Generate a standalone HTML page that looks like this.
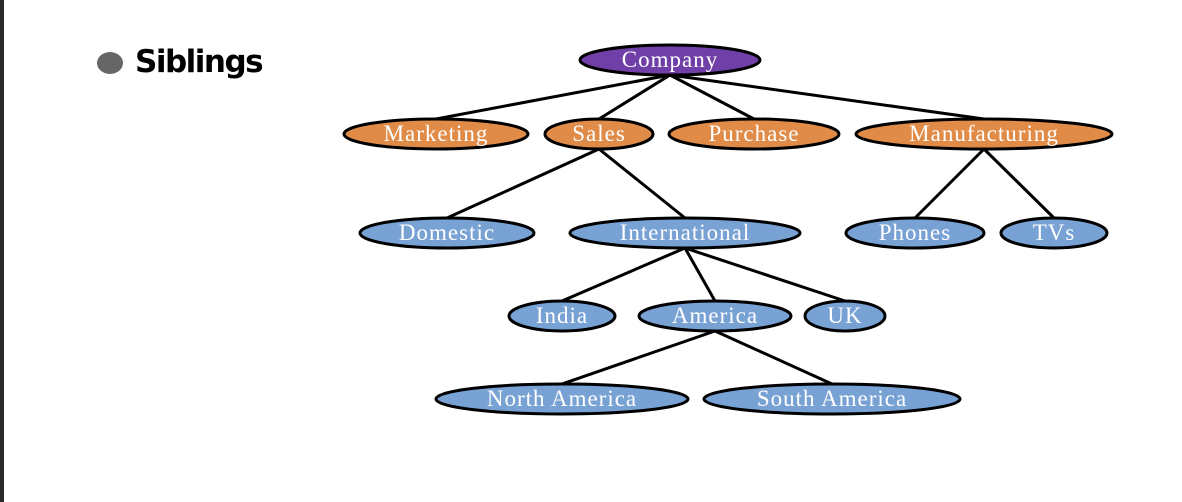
<!DOCTYPE html>
<html><head><style>
html,body{margin:0;padding:0;background:#fff;}
body{width:1182px;height:502px;position:relative;overflow:hidden;}
.bar{position:absolute;left:0;top:0;width:4px;height:502px;background:#2b2b2b;}
.title{position:absolute;left:135px;top:44px;font:bold 31px "DejaVu Sans","Liberation Sans",sans-serif;color:#000;letter-spacing:-1.5px;}
.dot{position:absolute;left:97px;top:52px;width:26px;height:22px;border-radius:50%;background:#666;}
svg{position:absolute;left:0;top:0;}
text{font-family:"Liberation Serif",serif;font-size:23px;letter-spacing:1px;fill:#fff;text-anchor:middle;}
</style></head><body>
<div class="bar"></div>
<div class="dot"></div>
<div class="title">Siblings</div>
<svg width="1182" height="502">
<g stroke="#000" stroke-width="3">
<line x1="670" y1="75" x2="436" y2="119"/>
<line x1="670" y1="75" x2="599" y2="119"/>
<line x1="670" y1="75" x2="754" y2="119"/>
<line x1="670" y1="75" x2="984" y2="119"/>
<line x1="599" y1="149" x2="447" y2="218"/>
<line x1="599" y1="149" x2="685" y2="218"/>
<line x1="984" y1="149" x2="915" y2="218"/>
<line x1="984" y1="149" x2="1054" y2="218"/>
<line x1="685" y1="248" x2="562" y2="301"/>
<line x1="685" y1="248" x2="715" y2="301"/>
<line x1="685" y1="248" x2="845" y2="301"/>
<line x1="715" y1="331" x2="562" y2="384"/>
<line x1="715" y1="331" x2="832" y2="384"/>
</g>
<g stroke="#000" stroke-width="3">
<ellipse cx="670" cy="60" rx="90" ry="15" fill="#7040a8"/>
<ellipse cx="436" cy="134" rx="92" ry="15" fill="#e08c48"/>
<ellipse cx="599" cy="134" rx="54" ry="15" fill="#e08c48"/>
<ellipse cx="754" cy="134" rx="85" ry="15" fill="#e08c48"/>
<ellipse cx="984" cy="134" rx="128" ry="15" fill="#e08c48"/>
<ellipse cx="447" cy="233" rx="87" ry="15" fill="#78a2d4"/>
<ellipse cx="685" cy="233" rx="115" ry="15" fill="#78a2d4"/>
<ellipse cx="915" cy="233" rx="69" ry="15" fill="#78a2d4"/>
<ellipse cx="1054" cy="233" rx="53" ry="15" fill="#78a2d4"/>
<ellipse cx="562" cy="316" rx="53" ry="15" fill="#78a2d4"/>
<ellipse cx="715" cy="316" rx="76" ry="15" fill="#78a2d4"/>
<ellipse cx="845" cy="316" rx="40" ry="15" fill="#78a2d4"/>
<ellipse cx="562" cy="399" rx="126" ry="15" fill="#78a2d4"/>
<ellipse cx="832" cy="399" rx="128" ry="15" fill="#78a2d4"/>
</g>
<text x="670" y="67">Company</text>
<text x="436" y="141">Marketing</text>
<text x="599" y="141">Sales</text>
<text x="754" y="141">Purchase</text>
<text x="984" y="141">Manufacturing</text>
<text x="447" y="240">Domestic</text>
<text x="685" y="240">International</text>
<text x="915" y="240">Phones</text>
<text x="1054" y="240">TVs</text>
<text x="562" y="323">India</text>
<text x="715" y="323">America</text>
<text x="845" y="323">UK</text>
<text x="562" y="406">North America</text>
<text x="832" y="406">South America</text>
</svg>
</body></html>
